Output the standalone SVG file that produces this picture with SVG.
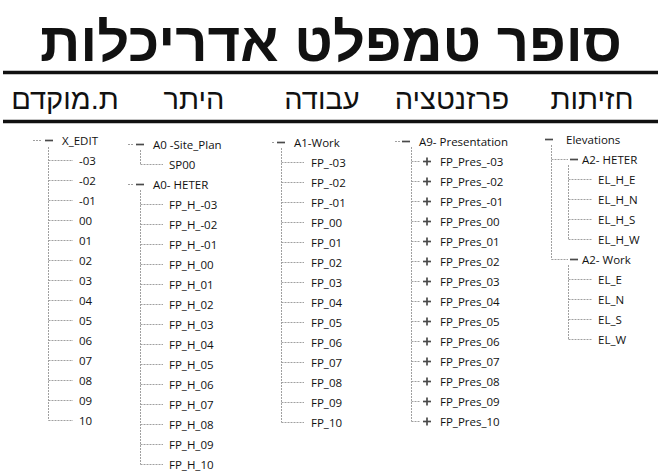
<svg xmlns="http://www.w3.org/2000/svg" width="661" height="472" viewBox="0 0 661 472">
<style>
.title{font-family:"Liberation Sans","DejaVu Sans",sans-serif;font-weight:bold;font-size:54px;fill:#111}
.hdr{font-family:"Liberation Sans","DejaVu Sans",sans-serif;font-size:29px;fill:#111;text-anchor:middle}
.t{font-family:"Open Sans","Noto Sans",sans-serif;font-size:11.5px;fill:#111}
.rule{stroke:#111;stroke-width:3.5}
.dot{stroke:#a0a0a0;stroke-width:1;stroke-dasharray:2 1;fill:none}
.sign{stroke:#4a4a4a;stroke-width:1.7}
</style>
<defs>
<g id="minus"><line class="sign" x1="0" y1="0" x2="8" y2="0"/></g>
<g id="plus"><line class="sign" x1="0" y1="0" x2="8" y2="0"/><line class="sign" x1="4" y1="-4" x2="4" y2="4"/></g>
</defs>
<rect width="661" height="472" fill="#fff"/>
<g id="title"><text class="title" x="40" y="61" textLength="582" lengthAdjust="spacingAndGlyphs">סופר טמפלט אדריכלות</text></g>
<line class="rule" x1="3" y1="72.5" x2="658" y2="72.5"/>
<line class="rule" x1="3" y1="121.5" x2="658" y2="121.5"/>
<g id="headers">
<text class="hdr" x="592" y="109">חזיתות</text>
<text class="hdr" x="452" y="109">פרזנטציה</text>
<text class="hdr" x="322" y="109">עבודה</text>
<text class="hdr" x="194" y="109">היתר</text>
<text class="hdr" x="65" y="109">ת.מוקדם</text>
</g>
<g id="connectors">
<path class="dot" d="M33 140.5H42 M48.5 147V420.5 M48.5 160.5H73 M48.5 180.5H73 M48.5 200.5H73 M48.5 220.5H73 M48.5 240.5H73 M48.5 260.5H73 M48.5 280.5H73 M48.5 300.5H73 M48.5 320.5H73 M48.5 340.5H73 M48.5 360.5H73 M48.5 380.5H73 M48.5 400.5H73 M48.5 420.5H73"/>
<path class="dot" d="M128 144.5H133 M140.5 150V164.5 M140.5 164.5H163 M128 184.5H133 M140.5 190V464.5 M140.5 204.5H163 M140.5 224.5H163 M140.5 244.5H163 M140.5 264.5H163 M140.5 284.5H163 M140.5 304.5H163 M140.5 324.5H163 M140.5 344.5H163 M140.5 364.5H163 M140.5 384.5H163 M140.5 404.5H163 M140.5 424.5H163 M140.5 444.5H163 M140.5 464.5H163"/>
<path class="dot" d="M272 142.5H275 M281.5 148V422.5 M281.5 162.5H304 M281.5 182.5H304 M281.5 202.5H304 M281.5 222.5H304 M281.5 242.5H304 M281.5 262.5H304 M281.5 282.5H304 M281.5 302.5H304 M281.5 322.5H304 M281.5 342.5H304 M281.5 362.5H304 M281.5 382.5H304 M281.5 402.5H304 M281.5 422.5H304"/>
<path class="dot" d="M395 141.5H400 M411.5 147V421.5 M411.5 161.5H420 M411.5 181.5H420 M411.5 201.5H420 M411.5 221.5H420 M411.5 241.5H420 M411.5 261.5H420 M411.5 281.5H420 M411.5 301.5H420 M411.5 321.5H420 M411.5 341.5H420 M411.5 361.5H420 M411.5 381.5H420 M411.5 401.5H420 M411.5 421.5H420"/>
<path class="dot" d="M551.5 145V259.5 M551.5 159.5H568 M551.5 259.5H568 M568.5 165V239.5 M568.5 179.5H592 M568.5 199.5H592 M568.5 219.5H592 M568.5 239.5H592 M568.5 265V339.5 M568.5 279.5H592 M568.5 299.5H592 M568.5 319.5H592 M568.5 339.5H592"/>
</g>
<g id="col-xedit">
<use href="#minus" x="45" y="140.5"/>
<text class="t" x="62" y="144.5">X_EDIT</text>
<text class="t" x="79" y="164.5">-03</text>
<text class="t" x="79" y="184.5">-02</text>
<text class="t" x="79" y="204.5">-01</text>
<text class="t" x="79" y="224.5">00</text>
<text class="t" x="79" y="244.5">01</text>
<text class="t" x="79" y="264.5">02</text>
<text class="t" x="79" y="284.5">03</text>
<text class="t" x="79" y="304.5">04</text>
<text class="t" x="79" y="324.5">05</text>
<text class="t" x="79" y="344.5">06</text>
<text class="t" x="79" y="364.5">07</text>
<text class="t" x="79" y="384.5">08</text>
<text class="t" x="79" y="404.5">09</text>
<text class="t" x="79" y="424.5">10</text>
</g>
<g id="col-site">
<use href="#minus" x="136" y="144.5"/>
<text class="t" x="153" y="148.5">A0 -Site_Plan</text>
<text class="t" x="169" y="168.5">SP00</text>
</g>
<g id="col-heter">
<use href="#minus" x="136" y="184.5"/>
<text class="t" x="153" y="188.5">A0- HETER</text>
<text class="t" x="169" y="208.5">FP_H_-03</text>
<text class="t" x="169" y="228.5">FP_H_-02</text>
<text class="t" x="169" y="248.5">FP_H_-01</text>
<text class="t" x="169" y="268.5">FP_H_00</text>
<text class="t" x="169" y="288.5">FP_H_01</text>
<text class="t" x="169" y="308.5">FP_H_02</text>
<text class="t" x="169" y="328.5">FP_H_03</text>
<text class="t" x="169" y="348.5">FP_H_04</text>
<text class="t" x="169" y="368.5">FP_H_05</text>
<text class="t" x="169" y="388.5">FP_H_06</text>
<text class="t" x="169" y="408.5">FP_H_07</text>
<text class="t" x="169" y="428.5">FP_H_08</text>
<text class="t" x="169" y="448.5">FP_H_09</text>
<text class="t" x="169" y="468.5">FP_H_10</text>
</g>
<g id="col-work">
<use href="#minus" x="277" y="142.5"/>
<text class="t" x="294" y="146.5">A1-Work</text>
<text class="t" x="311" y="166.5">FP_-03</text>
<text class="t" x="311" y="186.5">FP_-02</text>
<text class="t" x="311" y="206.5">FP_-01</text>
<text class="t" x="311" y="226.5">FP_00</text>
<text class="t" x="311" y="246.5">FP_01</text>
<text class="t" x="311" y="266.5">FP_02</text>
<text class="t" x="311" y="286.5">FP_03</text>
<text class="t" x="311" y="306.5">FP_04</text>
<text class="t" x="311" y="326.5">FP_05</text>
<text class="t" x="311" y="346.5">FP_06</text>
<text class="t" x="311" y="366.5">FP_07</text>
<text class="t" x="311" y="386.5">FP_08</text>
<text class="t" x="311" y="406.5">FP_09</text>
<text class="t" x="311" y="426.5">FP_10</text>
</g>
<g id="col-pres">
<use href="#minus" x="402" y="141.5"/>
<text class="t" x="419" y="145.5">A9- Presentation</text>
<use href="#plus" x="423" y="161.5"/><text class="t" x="440" y="165.5">FP_Pres_-03</text>
<use href="#plus" x="423" y="181.5"/><text class="t" x="440" y="185.5">FP_Pres_-02</text>
<use href="#plus" x="423" y="201.5"/><text class="t" x="440" y="205.5">FP_Pres_-01</text>
<use href="#plus" x="423" y="221.5"/><text class="t" x="440" y="225.5">FP_Pres_00</text>
<use href="#plus" x="423" y="241.5"/><text class="t" x="440" y="245.5">FP_Pres_01</text>
<use href="#plus" x="423" y="261.5"/><text class="t" x="440" y="265.5">FP_Pres_02</text>
<use href="#plus" x="423" y="281.5"/><text class="t" x="440" y="285.5">FP_Pres_03</text>
<use href="#plus" x="423" y="301.5"/><text class="t" x="440" y="305.5">FP_Pres_04</text>
<use href="#plus" x="423" y="321.5"/><text class="t" x="440" y="325.5">FP_Pres_05</text>
<use href="#plus" x="423" y="341.5"/><text class="t" x="440" y="345.5">FP_Pres_06</text>
<use href="#plus" x="423" y="361.5"/><text class="t" x="440" y="365.5">FP_Pres_07</text>
<use href="#plus" x="423" y="381.5"/><text class="t" x="440" y="385.5">FP_Pres_08</text>
<use href="#plus" x="423" y="401.5"/><text class="t" x="440" y="405.5">FP_Pres_09</text>
<use href="#plus" x="423" y="421.5"/><text class="t" x="440" y="425.5">FP_Pres_10</text>
</g>
<g id="col-elev">
<use href="#minus" x="545" y="139.5"/>
<text class="t" x="566" y="143.5">Elevations</text>
<use href="#minus" x="570" y="159.5"/>
<text class="t" x="582" y="163.5">A2- HETER</text>
<text class="t" x="598" y="183.5">EL_H_E</text>
<text class="t" x="598" y="203.5">EL_H_N</text>
<text class="t" x="598" y="223.5">EL_H_S</text>
<text class="t" x="598" y="243.5">EL_H_W</text>
<use href="#minus" x="570" y="259.5"/>
<text class="t" x="582" y="263.5">A2- Work</text>
<text class="t" x="598" y="283.5">EL_E</text>
<text class="t" x="598" y="303.5">EL_N</text>
<text class="t" x="598" y="323.5">EL_S</text>
<text class="t" x="598" y="343.5">EL_W</text>
</g>
</svg>
